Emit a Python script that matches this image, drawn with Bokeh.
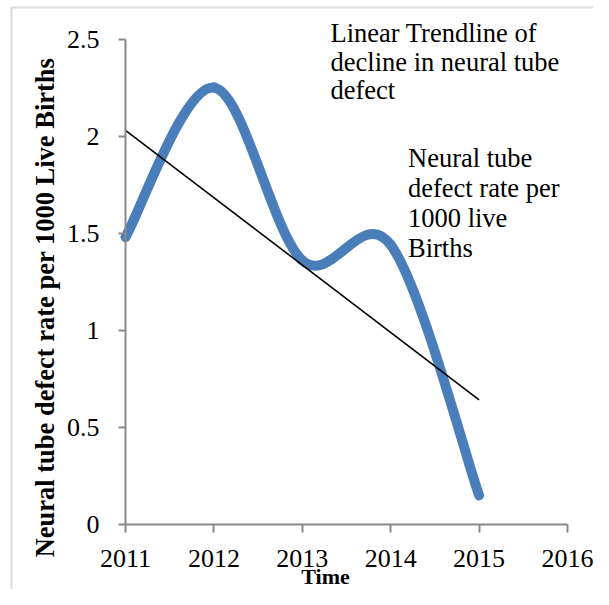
import numpy as np
from bokeh.plotting import figure
from bokeh.models import Range1d, FixedTicker, Label, BoxAnnotation
from bokeh.embed import file_html
from bokeh.resources import INLINE

# ---- data ----
years = [2011, 2012, 2013, 2014, 2015]
rates = [1.48, 2.25, 1.36, 1.44, 0.15]
x_ticks = [2011, 2012, 2013, 2014, 2015, 2016]
y_ticks = [0, 0.5, 1, 1.5, 2, 2.5]
y_tick_labels = ["0", "0.5", "1", "1.5", "2", "2.5"]
y_title = "Neural tube defect rate per 1000 Live Births"
x_title = "Time"
note_trend = ["Linear Trendline of", "decline in neural tube", "defect"]
note_series = ["Neural tube", "defect rate per", "1000 live", "Births"]

# ---- geometry (pixel positions of the axes inside the canvas) ----
W, H = 593, 589
AX_L, AX_R = 125, 567      # pixel x of 2011 and 2016
AX_B, AX_T = 524, 38.5     # pixel y of 0 and 2.5
X0, X1, Y0, Y1 = 2011, 2016, 0, 2.5
sx = (X1 - X0) / (AX_R - AX_L)
sy = (Y1 - Y0) / (AX_B - AX_T)
SHIFT = 9  # label anchor correction (px)

def px_x(px):
    return X0 + (px - AX_L) * sx

def px_y(py):
    return Y0 + (AX_B - py) * sy

FONT = "Liberation Serif"
AXIS_COLOR = "#898989"

p = figure(width=W, height=H, output_backend="svg", toolbar_location=None,
           x_range=Range1d(px_x(0), px_x(W)), y_range=Range1d(px_y(H), px_y(0)),
           min_border_left=0, min_border_right=0,
           min_border_top=0, min_border_bottom=0)
p.outline_line_color = None
p.grid.visible = False
p.background_fill_color = "white"
p.border_fill_color = "white"

for ax in (p.xaxis[0], p.yaxis[0]):
    ax.axis_line_color = AXIS_COLOR
    ax.axis_line_width = 2
    ax.major_tick_line_color = AXIS_COLOR
    ax.major_tick_line_width = 2
    ax.major_tick_in = 0
    ax.minor_tick_line_color = None
    ax.major_label_text_font = FONT
    ax.major_label_text_font_size = "26px"
    ax.major_label_text_color = "black"

xa = p.xaxis[0]
xa.fixed_location = Y0
xa.bounds = (X0, X1)
xa.ticker = FixedTicker(ticks=x_ticks)
xa.major_tick_out = 8
xa.major_label_standoff = 17
xa.major_label_overrides = {t: str(t) for t in x_ticks}

ya = p.yaxis[0]
ya.fixed_location = X0
ya.bounds = (Y0, Y1)
ya.ticker = FixedTicker(ticks=y_ticks)
ya.major_tick_out = 7
ya.major_label_standoff = 19
ya.major_label_overrides = {t: l for t, l in zip(y_ticks, y_tick_labels)}

# ---- smoothed series (Bezier segments from data, Catmull-Rom style) ----
xs = np.array(years, dtype=float)
ys = np.array(rates, dtype=float)
n = len(xs)
x0s, y0s, x1s, y1s, cx0, cy0, cx1, cy1 = [], [], [], [], [], [], [], []
for i in range(n - 1):
    ip = max(i - 1, 0)
    inx = min(i + 2, n - 1)
    x0s.append(xs[i]); y0s.append(ys[i])
    x1s.append(xs[i + 1]); y1s.append(ys[i + 1])
    cx0.append(xs[i] + (xs[i + 1] - xs[ip]) / 6)
    cy0.append(ys[i] + (ys[i + 1] - ys[ip]) / 6)
    cx1.append(xs[i + 1] - (xs[inx] - xs[i]) / 6)
    cy1.append(ys[i + 1] - (ys[inx] - ys[i]) / 6)

p.bezier(x0=x0s, y0=y0s, x1=x1s, y1=y1s, cx0=cx0, cy0=cy0, cx1=cx1, cy1=cy1,
         line_color="#4a7ebb", line_width=10, line_cap="round")

# ---- linear trendline ----
slope, intercept = np.polyfit(xs - xs[0], ys, 1)
tx = [xs[0], xs[-1]]
ty = [intercept, intercept + slope * (xs[-1] - xs[0])]
p.line(tx, ty, line_color="black", line_width=1.6)

# ---- texts ----
p.add_layout(Label(x=px_x(54 - 10), y=px_y(307), text=y_title, angle=np.pi / 2,
                   text_align="center", text_baseline="alphabetic",
                   text_font=FONT, text_font_size="26.5px", text_font_style="bold",
                   text_color="black"))
p.add_layout(Label(x=px_x(325), y=px_y(584.5 - SHIFT), text=x_title,
                   text_align="center", text_baseline="alphabetic",
                   text_font=FONT, text_font_size="22px", text_font_style="bold",
                   text_color="black"))
for i, line in enumerate(note_trend):
    p.add_layout(Label(x=px_x(330), y=px_y(41.7 + 28.3 * i - SHIFT), text=line,
                       text_align="left", text_baseline="alphabetic",
                       text_font=FONT, text_font_size="26.5px", text_color="black"))
for i, line in enumerate(note_series):
    p.add_layout(Label(x=px_x(407.5), y=px_y(166.7 + 30 * i - SHIFT), text=line,
                       text_align="left", text_baseline="alphabetic",
                       text_font=FONT, text_font_size="26.5px", text_color="black"))

# ---- outer chart border ----
p.add_layout(BoxAnnotation(left=px_x(11), right=px_x(W + 50),
                           top=px_y(7), bottom=px_y(H + 50),
                           fill_alpha=0, line_color=AXIS_COLOR, line_width=2))

open("out.html", "w").write(file_html(p, INLINE))
